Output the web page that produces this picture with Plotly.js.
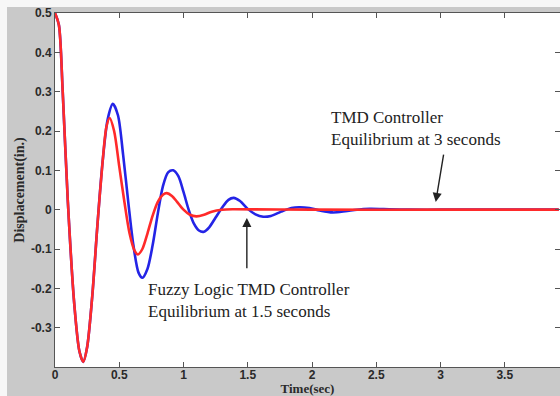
<!DOCTYPE html>
<html>
<head>
<meta charset="utf-8">
<script src="https://cdn.plot.ly/plotly-3.0.1.min.js"></script>
<style>
  html, body { margin: 0; padding: 0; background: #f7f7f7; width: 560px; height: 396px; overflow: hidden; }
  #chart { position: absolute; left: 7px; top: 7px; width: 553px; height: 389px; }
</style>
</head>
<body>
<div id="chart"></div>
<script>
// TMD controller response (blue)
const timeTMD = [0, 0.03, 0.06, 0.10, 0.15, 0.19, 0.22, 0.25, 0.29, 0.33, 0.37, 0.41, 0.45, 0.49, 0.53, 0.57, 0.61, 0.65, 0.68, 0.72, 0.76, 0.80, 0.84, 0.88, 0.92, 0.96, 1.00, 1.04, 1.08, 1.12, 1.16, 1.20, 1.25, 1.30, 1.35, 1.39, 1.44, 1.50, 1.56, 1.62, 1.68, 1.76, 1.84, 1.90, 1.98, 2.06, 2.16, 2.26, 2.35, 2.45, 2.60, 2.75, 3.00, 3.50, 3.92];
const dispTMD = [0.5, 0.47, 0.30, 0.02, -0.24, -0.36, -0.387, -0.35, -0.22, -0.04, 0.12, 0.23, 0.269, 0.24, 0.14, 0.02, -0.09, -0.16, -0.173, -0.15, -0.09, -0.01, 0.06, 0.095, 0.10, 0.085, 0.045, 0.0, -0.035, -0.053, -0.056, -0.045, -0.02, 0.005, 0.025, 0.03, 0.022, 0.002, -0.012, -0.018, -0.016, -0.005, 0.004, 0.006, 0.004, -0.002, -0.007, -0.004, 0.0, 0.002, 0.001, 0.0, 0.0, 0.0, 0.0];

// Fuzzy logic TMD controller response (red)
const timeFuzzy = [0, 0.03, 0.06, 0.10, 0.15, 0.19, 0.22, 0.25, 0.29, 0.33, 0.37, 0.40, 0.425, 0.46, 0.50, 0.54, 0.58, 0.62, 0.645, 0.68, 0.72, 0.76, 0.80, 0.84, 0.87, 0.91, 0.95, 1.00, 1.05, 1.10, 1.16, 1.22, 1.30, 1.40, 2.00, 3.00, 3.92];
const dispFuzzy = [0.5, 0.47, 0.30, 0.02, -0.24, -0.36, -0.387, -0.35, -0.22, -0.04, 0.12, 0.21, 0.233, 0.20, 0.11, 0.02, -0.06, -0.105, -0.114, -0.10, -0.06, -0.015, 0.02, 0.038, 0.042, 0.035, 0.02, 0.0, -0.013, -0.017, -0.013, -0.005, 0.0, 0.001, 0.0, 0.0, 0.0];

const xTicks = [0, 0.5, 1, 1.5, 2, 2.5, 3, 3.5];
const xTickLabels = ['0', '0.5', '1', '1.5', '2', '2.5', '3', '3.5'];
const yTicks = [-0.3, -0.2, -0.1, 0, 0.1, 0.2, 0.3, 0.4, 0.5];
const yTickLabels = ['-0.3', '-0.2', '-0.1', '0', '0.1', '0.2', '0.3', '0.4', '0.5'];

const tmdLabel = 'TMD Controller<br>Equilibrium at 3 seconds';
const fuzzyLabel = 'Fuzzy Logic TMD Controller<br>Equilibrium at 1.5 seconds';

const traces = [
  { x: timeTMD, y: dispTMD, type: 'scatter', mode: 'lines', name: 'TMD Controller',
    line: { color: '#2424e6', width: 2.6, shape: 'spline', smoothing: 0.8 }, hoverinfo: 'skip' },
  { x: timeFuzzy, y: dispFuzzy, type: 'scatter', mode: 'lines', name: 'Fuzzy Logic TMD Controller',
    line: { color: '#ff2a2a', width: 2.6, shape: 'spline', smoothing: 0.8 }, hoverinfo: 'skip' }
];

const tickFont = { family: 'Liberation Sans, Arial, sans-serif', size: 12, color: '#2a2a2a', weight: 'bold' };
const xTitleFont = { family: 'Liberation Serif, Times New Roman, serif', size: 13, color: '#2a2a2a', weight: 'bold' };
const yTitleFont = { family: 'Liberation Serif, Times New Roman, serif', size: 14, color: '#2a2a2a', weight: 'bold' };
const annFont = { family: 'Liberation Serif, Times New Roman, serif', size: 17, color: '#222' };

const layout = {
  width: 553, height: 389,
  margin: { l: 48, r: 0, t: 6, b: 29 },
  paper_bgcolor: '#c9c9c9',
  plot_bgcolor: '#ffffff',
  showlegend: false,
  xaxis: {
    range: [0, 3.93], tickvals: xTicks, ticktext: xTickLabels,
    ticks: 'inside', ticklen: 5, tickwidth: 1, tickcolor: '#555',
    showline: true, linecolor: '#555', linewidth: 1, mirror: 'ticks',
    showgrid: false, zeroline: false, tickfont: tickFont,
    ticklabelstandoff: -3, ticklabeloverflow: 'allow',
    title: { text: 'Time(sec)', font: xTitleFont, standoff: 0 }
  },
  yaxis: {
    range: [-0.4, 0.5], tickvals: yTicks, ticktext: yTickLabels,
    ticks: 'inside', ticklen: 5, tickwidth: 1, tickcolor: '#555',
    showline: true, linecolor: '#555', linewidth: 1, mirror: 'ticks',
    showgrid: false, zeroline: false, tickfont: tickFont,
    ticklabeloverflow: 'allow',
    title: { text: 'Displacement(in.)', font: yTitleFont, standoff: 3 }
  },
  annotations: [
    { x: 2.131, y: 0.207, xref: 'x', yref: 'y', text: tmdLabel, showarrow: false,
      xanchor: 'left', yanchor: 'middle', align: 'left', font: annFont },
    { x: 0.708, y: -0.230, xref: 'x', yref: 'y', text: fuzzyLabel, showarrow: false,
      xanchor: 'left', yanchor: 'middle', align: 'left', font: annFont },
    { x: 2.963, y: 0.0196, xref: 'x', yref: 'y', text: '', showarrow: true,
      ax: 3.026, ay: 0.144, axref: 'x', ayref: 'y',
      arrowhead: 2, arrowsize: 1.3, arrowwidth: 1.4, arrowcolor: '#222', standoff: 0 },
    { x: 1.493, y: -0.021, xref: 'x', yref: 'y', text: '', showarrow: true,
      ax: 1.493, ay: -0.153, axref: 'x', ayref: 'y',
      arrowhead: 2, arrowsize: 1.3, arrowwidth: 1.4, arrowcolor: '#222', standoff: 0 }
  ]
};

Plotly.newPlot('chart', traces, layout, { displayModeBar: false, staticPlot: true });
</script>
</body>
</html>
